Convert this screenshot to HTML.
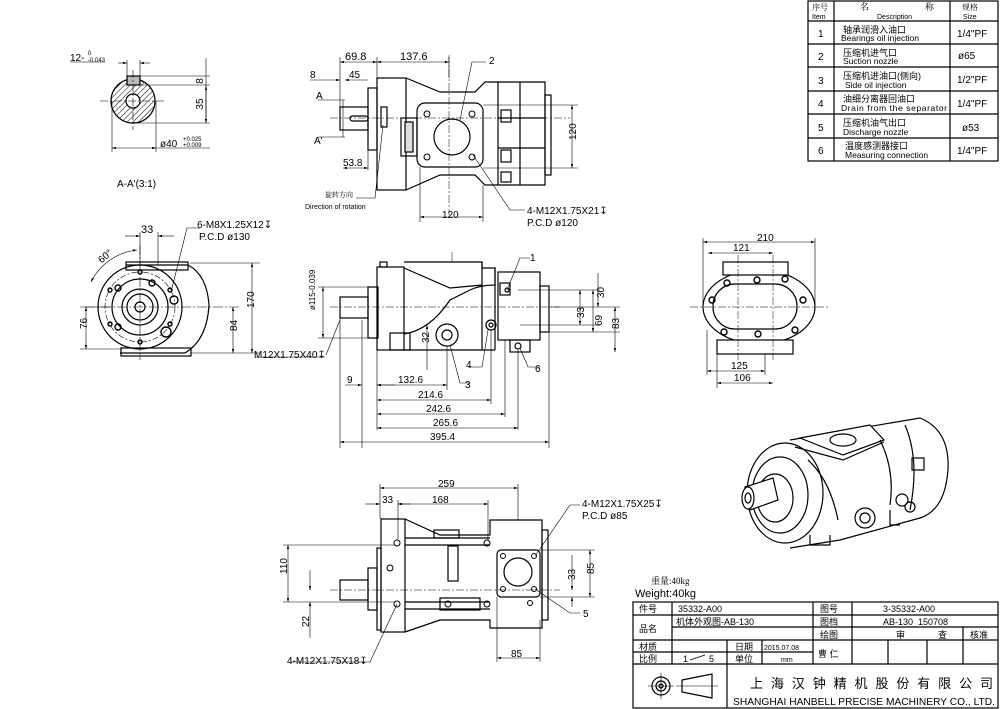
<!DOCTYPE html>
<html><head><meta charset="utf-8"><style>
html,body{margin:0;padding:0;background:#fff;}
svg{display:block;}
text{font-family:"Liberation Sans","Noto Sans CJK SC",sans-serif;fill:#000;}
.s{font-family:"Liberation Serif","Noto Serif CJK SC",serif;}
</style></head><body>
<svg width="1000" height="709" viewBox="0 0 1000 709" xmlns="http://www.w3.org/2000/svg">
<defs>
<marker id="a" viewBox="0 0 10 6" refX="10" refY="3" markerWidth="8" markerHeight="4" orient="auto-start-reverse"><path d="M0,0L10,3L0,6z" fill="#000"/></marker>
<pattern id="h" width="4" height="4" patternUnits="userSpaceOnUse" patternTransform="rotate(45)"><line x1="0" y1="0" x2="0" y2="4" stroke="#000" stroke-width="1"/></pattern>
</defs>
<g fill="none" stroke="#000" stroke-width="1.2">
<!-- ===== section A-A' ===== -->
<circle cx="133" cy="101" r="22" fill="url(#h)"/>
<circle cx="133" cy="101" r="7" fill="#fff"/>
<rect x="127" y="76" width="13" height="9" fill="#bbb"/>
<line x1="100" y1="101" x2="166" y2="101" stroke-dasharray="8,2,2,2" stroke-width=".6"/>
<line x1="133" y1="70" x2="133" y2="130" stroke-dasharray="8,2,2,2" stroke-width=".6"/>
<line x1="70" y1="62" x2="105" y2="62" stroke-width=".6"/>
<line x1="118" y1="63" x2="127" y2="63" marker-end="url(#a)" stroke-width=".6"/>
<line x1="150" y1="63" x2="140" y2="63" marker-end="url(#a)" stroke-width=".6"/>
<line x1="127" y1="60" x2="127" y2="76" stroke-width=".6"/><line x1="140" y1="60" x2="140" y2="76" stroke-width=".6"/>
<line x1="140" y1="76" x2="210" y2="76" stroke-width=".6"/><line x1="140" y1="85" x2="210" y2="85" stroke-width=".6"/>
<line x1="133" y1="123" x2="210" y2="123" stroke-width=".6"/>
<line x1="206" y1="58" x2="206" y2="123" stroke-width=".6"/>
<line x1="206" y1="86" x2="206" y2="123" marker-start="url(#a)" marker-end="url(#a)" stroke-width=".6"/>
<line x1="112" y1="101" x2="112" y2="152" stroke-width=".6"/><line x1="156" y1="101" x2="156" y2="152" stroke-width=".6"/>
<line x1="112" y1="148" x2="156" y2="148" marker-start="url(#a)" marker-end="url(#a)" stroke-width=".6"/>
<line x1="156" y1="148" x2="210" y2="148" stroke-width=".6"/>

<!-- ===== left end view ===== -->
<path d="M126,265 L188,265 Q207,275 209,305 Q207,340 185,353 L120,353"/>
<rect x="126" y="262" width="62" height="8"/>
<rect x="121" y="348" width="70" height="8"/>
<circle cx="140" cy="307" r="42"/>
<circle cx="140" cy="307" r="35" stroke-dasharray="6,2,2,2" stroke-width=".6"/>
<circle cx="140" cy="307" r="28"/>
<circle cx="140" cy="307" r="18"/><circle cx="140" cy="307" r="13"/><circle cx="140" cy="307" r="5"/>
<g stroke-width="1.4"><circle cx="140" cy="272" r="2"/><circle cx="170" cy="290" r="2"/><circle cx="170" cy="324" r="2"/><circle cx="140" cy="342" r="2"/><circle cx="110" cy="324" r="2"/><circle cx="110" cy="290" r="2"/>
<circle cx="174" cy="300" r="4"/><circle cx="166" cy="332" r="5"/><circle cx="118" cy="288" r="3"/><circle cx="118" cy="327" r="3"/><circle cx="152" cy="283" r="3"/></g>
<line x1="85" y1="307" x2="240" y2="307" stroke-dasharray="10,2,2,2" stroke-width=".6"/>
<line x1="140" y1="245" x2="140" y2="360" stroke-dasharray="10,2,2,2" stroke-width=".6"/>
<line x1="140" y1="232" x2="140" y2="265" stroke-width=".6"/><line x1="158" y1="232" x2="158" y2="265" stroke-width=".6"/>
<line x1="125" y1="236" x2="140" y2="236" marker-end="url(#a)" stroke-width=".6"/><line x1="174" y1="236" x2="158" y2="236" marker-end="url(#a)" stroke-width=".6"/>
<path d="M137,250 A58,58 0 0 0 91,282" stroke-width=".6" marker-start="url(#a)" marker-end="url(#a)"/>
<path d="M172,288 L187,228 L200,228" stroke-width=".6"/>
<line x1="80" y1="307" x2="110" y2="307" stroke-width=".6"/><line x1="80" y1="349" x2="122" y2="349" stroke-width=".6"/>
<line x1="86" y1="307" x2="86" y2="349" marker-start="url(#a)" marker-end="url(#a)" stroke-width=".6"/>
<line x1="190" y1="353" x2="260" y2="353" stroke-width=".6"/><line x1="190" y1="263" x2="260" y2="263" stroke-width=".6"/>
<line x1="252" y1="263" x2="252" y2="353" marker-start="url(#a)" marker-end="url(#a)" stroke-width=".6"/>
<line x1="233" y1="307" x2="233" y2="353" marker-start="url(#a)" marker-end="url(#a)" stroke-width=".6"/>
<line x1="255" y1="357" x2="325" y2="357" stroke-width=".6"/>

<!-- ===== top view ===== -->
<rect x="340" y="107" width="28" height="23"/>
<rect x="350" y="116" width="18" height="5" rx="2.5"/>
<rect x="368" y="88" width="9" height="62"/>
<rect x="377" y="78" width="29" height="112"/>
<rect x="381" y="107" width="6" height="20"/>
<path d="M406,78 L440,92 L475,92 L485,82 L545,82 L545,185 L485,185 L475,175 L440,175 L406,190"/>
<rect x="545" y="95" width="6" height="80"/>
<line x1="498" y1="82" x2="498" y2="185"/><line x1="520" y1="82" x2="520" y2="185"/>
<line x1="498" y1="118" x2="545" y2="118"/><line x1="498" y1="148" x2="545" y2="148"/>
<rect x="501" y="110" width="10" height="12"/><rect x="501" y="150" width="10" height="12"/><rect x="501" y="172" width="10" height="10"/>
<rect x="417" y="103" width="66" height="64" rx="8" fill="#fff"/>
<circle cx="452" cy="137" r="18"/>
<g stroke-width="1"><circle cx="427" cy="114" r="3"/><circle cx="472" cy="114" r="3"/><circle cx="427" cy="157" r="3"/><circle cx="472" cy="157" r="3"/></g>
<rect x="401" y="118" width="16" height="38"/>
<rect x="405" y="122" width="8" height="30" fill="#ddd"/>
<line x1="330" y1="118" x2="570" y2="118" stroke-dasharray="8,2,2,2" stroke-width=".5"/>
<line x1="449" y1="55" x2="449" y2="215" stroke-dasharray="8,2,2,2" stroke-width=".5"/>
<g stroke-width=".6">
<line x1="340" y1="57" x2="340" y2="107"/><line x1="377" y1="57" x2="377" y2="78"/><line x1="449" y1="57" x2="449" y2="78"/>
<line x1="340" y1="62" x2="377" y2="62" marker-start="url(#a)" marker-end="url(#a)"/>
<line x1="377" y1="62" x2="449" y2="62" marker-start="url(#a)" marker-end="url(#a)"/>
<line x1="310" y1="80" x2="340" y2="80" marker-end="url(#a)"/><line x1="368" y1="80" x2="345" y2="80" marker-end="url(#a)"/>
<line x1="318" y1="100" x2="345" y2="100"/><line x1="318" y1="137" x2="345" y2="137"/>
<line x1="343" y1="100" x2="343" y2="137"/>
<line x1="343" y1="168" x2="368" y2="168" marker-start="url(#a)" marker-end="url(#a)"/>
<line x1="368" y1="150" x2="368" y2="170"/>
<path d="M383,125 L375,198 L356,198"/>
<line x1="420" y1="167" x2="420" y2="222"/><line x1="483" y1="185" x2="483" y2="222"/>
<line x1="420" y1="217" x2="483" y2="217" marker-start="url(#a)" marker-end="url(#a)"/>
<line x1="483" y1="105" x2="578" y2="105"/><line x1="483" y1="168" x2="578" y2="168"/>
<line x1="572" y1="105" x2="572" y2="168" marker-start="url(#a)" marker-end="url(#a)"/>
<path d="M473,155 L510,210 L525,210"/><path d="M460,120 L472,62 L486,62"/>
</g>

<!-- ===== front view ===== -->
<rect x="340" y="297" width="28" height="21"/>
<rect x="368" y="287" width="10" height="51"/>
<rect x="377" y="267" width="27" height="83"/>
<rect x="380" y="262" width="7" height="5"/>
<path d="M404,262 L482,262 L482,268 L495,268 L495,285 Q480,285 470,290 L450,300 Q430,330 404,334"/>
<path d="M404,268 L450,288 L482,285"/>
<line x1="404" y1="350" x2="495" y2="350"/><line x1="482" y1="262" x2="482" y2="350"/><line x1="495" y1="268" x2="495" y2="350"/>
<rect x="498" y="272" width="42" height="68"/>
<rect x="540" y="286" width="9" height="46"/>
<rect x="390" y="333" width="20" height="17"/>
<circle cx="447" cy="335" r="11"/><circle cx="447" cy="335" r="5"/>
<circle cx="491" cy="325" r="5"/><circle cx="491" cy="325" r="2"/>
<rect x="500" y="283" width="10" height="12"/><circle cx="507" cy="290" r="2"/>
<rect x="510" y="340" width="20" height="12"/><circle cx="518" cy="346" r="3"/>
<line x1="330" y1="307" x2="560" y2="307" stroke-dasharray="8,2,2,2" stroke-width=".5"/>
<line x1="452" y1="252" x2="452" y2="262" stroke-width=".5"/>
<g stroke-width=".6">
<line x1="318" y1="287" x2="368" y2="287"/><line x1="318" y1="338" x2="368" y2="338"/>
<line x1="323" y1="287" x2="323" y2="338" marker-start="url(#a)" marker-end="url(#a)"/>
<line x1="362" y1="320" x2="362" y2="448"/><line x1="377" y1="340" x2="377" y2="430"/>
<line x1="549" y1="332" x2="549" y2="448"/><line x1="518" y1="350" x2="518" y2="430"/><line x1="505" y1="340" x2="505" y2="417"/><line x1="491" y1="330" x2="491" y2="404"/><line x1="447" y1="346" x2="447" y2="390"/>
<line x1="340" y1="318" x2="340" y2="448"/>
<line x1="340" y1="442" x2="549" y2="442" marker-start="url(#a)" marker-end="url(#a)"/>
<line x1="377" y1="428" x2="518" y2="428" marker-start="url(#a)" marker-end="url(#a)"/>
<line x1="377" y1="414" x2="505" y2="414" marker-start="url(#a)" marker-end="url(#a)"/>
<line x1="377" y1="400" x2="491" y2="400" marker-start="url(#a)" marker-end="url(#a)"/>
<line x1="377" y1="385" x2="447" y2="385" marker-start="url(#a)" marker-end="url(#a)"/>
<line x1="345" y1="385" x2="362" y2="385" marker-end="url(#a)"/><line x1="395" y1="385" x2="377" y2="385" marker-end="url(#a)"/>
<line x1="518" y1="290" x2="600" y2="290"/><line x1="520" y1="325" x2="600" y2="325"/><line x1="545" y1="332" x2="620" y2="332"/><line x1="550" y1="307" x2="620" y2="307"/>
<line x1="580" y1="290" x2="580" y2="325" marker-start="url(#a)" marker-end="url(#a)"/>
<line x1="598" y1="273" x2="598" y2="307" marker-end="url(#a)"/>
<line x1="593" y1="290" x2="593" y2="332" marker-start="url(#a)" marker-end="url(#a)"/>
<line x1="615" y1="307" x2="615" y2="352" marker-start="url(#a)" marker-end="url(#a)"/>
<line x1="427" y1="325" x2="427" y2="370" marker-start="url(#a)"/>
<path d="M507,290 L520,258 L530,258"/><path d="M450,345 L460,383 L470,383"/><path d="M488,330 L482,367 L468,367"/><path d="M520,348 L528,367 L540,367"/>
<path d="M340,320 L326,355"/>
</g>

<!-- ===== right view ===== -->
<ellipse cx="759" cy="307" rx="56" ry="37"/>
<rect x="713" y="284" width="84" height="45" rx="22"/>
<rect x="723" y="262" width="65" height="13" fill="#fff"/>
<rect x="717" y="340" width="76" height="14" fill="#fff"/>
<g stroke-width="1.4"><circle cx="727" cy="283" r="3"/><circle cx="757" cy="280" r="3"/><circle cx="785" cy="279" r="3"/><circle cx="712" cy="300" r="3"/><circle cx="803" cy="300" r="3"/><circle cx="724" cy="332" r="3"/><circle cx="758" cy="334" r="3"/><circle cx="795" cy="330" r="3"/></g>
<line x1="690" y1="307" x2="830" y2="307" stroke-dasharray="8,2,2,2" stroke-width=".5"/>
<line x1="738" y1="255" x2="738" y2="360" stroke-dasharray="8,2,2,2" stroke-width=".5"/>
<line x1="773" y1="255" x2="773" y2="360" stroke-dasharray="8,2,2,2" stroke-width=".5"/>
<g stroke-width=".6">
<line x1="703" y1="238" x2="703" y2="307"/><line x1="815" y1="238" x2="815" y2="307"/>
<line x1="703" y1="242" x2="815" y2="242" marker-start="url(#a)" marker-end="url(#a)"/>
<line x1="708" y1="253" x2="773" y2="253" marker-start="url(#a)" marker-end="url(#a)"/>
<line x1="707" y1="330" x2="707" y2="375"/><line x1="717" y1="354" x2="717" y2="388"/><line x1="765" y1="354" x2="765" y2="375"/>
<line x1="707" y1="371" x2="765" y2="371" marker-start="url(#a)" marker-end="url(#a)"/>
<line x1="717" y1="383" x2="773" y2="383" marker-start="url(#a)" marker-end="url(#a)"/>
</g>

<!-- ===== bottom view ===== -->
<rect x="340" y="580" width="28" height="20"/>
<rect x="368" y="568" width="9" height="42"/>
<rect x="377" y="548" width="4" height="82"/>
<rect x="381" y="519" width="24" height="113"/>
<path d="M405,519 L440,535 L490,535 L490,520 L542,520 L542,628 L490,628 L490,620 L440,620 L405,632"/>
<rect x="542" y="530" width="6" height="90"/>
<rect x="434" y="530" width="25" height="8"/>
<line x1="405" y1="538" x2="490" y2="538"/><line x1="405" y1="545" x2="490" y2="545"/>
<line x1="405" y1="602" x2="490" y2="602"/><line x1="405" y1="609" x2="490" y2="609"/>
<rect x="448" y="546" width="10" height="35"/>
<rect x="440" y="598" width="40" height="12"/>
<rect x="497" y="550" width="43" height="47" rx="4" fill="#fff"/>
<circle cx="518" cy="572" r="14"/>
<g stroke-width="1"><circle cx="397" cy="543" r="3"/><circle cx="397" cy="604" r="3"/><circle cx="390" cy="568" r="3"/><circle cx="487" cy="543" r="3"/><circle cx="487" cy="604" r="3"/><circle cx="448" cy="604" r="3"/><circle cx="503" cy="556" r="2.5"/><circle cx="534" cy="556" r="2.5"/><circle cx="503" cy="589" r="2.5"/><circle cx="534" cy="589" r="2.5"/><circle cx="530" cy="603" r="2.5"/></g>
<line x1="330" y1="590" x2="560" y2="590" stroke-dasharray="8,2,2,2" stroke-width=".5"/>
<g stroke-width=".6">
<line x1="380" y1="484" x2="380" y2="519"/><line x1="518" y1="484" x2="518" y2="520"/><line x1="398" y1="500" x2="398" y2="540"/><line x1="488" y1="500" x2="488" y2="540"/>
<line x1="380" y1="488" x2="518" y2="488" marker-start="url(#a)" marker-end="url(#a)"/>
<line x1="398" y1="504" x2="488" y2="504" marker-start="url(#a)" marker-end="url(#a)"/>
<line x1="365" y1="504" x2="380" y2="504" marker-end="url(#a)"/><line x1="410" y1="504" x2="398" y2="504" marker-end="url(#a)"/>
<line x1="283" y1="545" x2="395" y2="545"/><line x1="283" y1="602" x2="395" y2="602"/>
<line x1="288" y1="545" x2="288" y2="602" marker-start="url(#a)" marker-end="url(#a)"/>
<line x1="310" y1="570" x2="310" y2="590" marker-end="url(#a)"/><line x1="310" y1="638" x2="310" y2="602" marker-end="url(#a)"/>
<line x1="540" y1="550" x2="595" y2="550"/><line x1="540" y1="597" x2="595" y2="597"/>
<line x1="590" y1="550" x2="590" y2="597" marker-start="url(#a)" marker-end="url(#a)"/>
<line x1="572" y1="555" x2="572" y2="590" marker-end="url(#a)"/><line x1="572" y1="607" x2="572" y2="597" marker-end="url(#a)"/>
<line x1="497" y1="597" x2="497" y2="662"/><line x1="540" y1="620" x2="540" y2="662"/>
<line x1="497" y1="658" x2="540" y2="658" marker-start="url(#a)" marker-end="url(#a)"/>
<path d="M535,556 L570,505 L580,505"/><path d="M535,589 L570,613 L580,613"/><path d="M397,604 L370,662 L290,662"/>
</g>

<!-- ===== 3D view ===== -->
<g stroke-width="1.2">
<path d="M790,440 L920,418 Q950,430 948,470 Q945,510 920,518 L840,540 L790,548"/>
<ellipse cx="785" cy="493" rx="38" ry="50" fill="#fff"/>
<ellipse cx="780" cy="495" rx="28" ry="38"/>
<ellipse cx="775" cy="498" rx="18" ry="24"/>
<path d="M745,487 L773,478 L778,500 L750,510 Z" fill="#fff"/>
<ellipse cx="748" cy="498" rx="6" ry="11" fill="#fff"/><ellipse cx="748" cy="498" rx="3" ry="5"/>
<path d="M800,438 L870,425 L884,440 L843,455 Z" fill="#fff"/>
<path d="M795,447 L843,460 L884,442"/>
<ellipse cx="843" cy="440" rx="13" ry="6"/>
<path d="M808,460 Q830,480 838,520"/>
<path d="M880,440 Q895,470 890,505"/>
<path d="M905,425 Q920,460 910,510"/>
<circle cx="865" cy="518" r="10" fill="#fff"/><circle cx="865" cy="518" r="5"/>
<circle cx="902" cy="500" r="6"/><circle cx="910" cy="507" r="5"/>
<rect x="912" y="458" width="12" height="12"/>
<path d="M810,535 L810,545 L830,545 L830,535"/>
<path d="M890,510 L890,525 L900,525"/>
</g>

<!-- ===== table ===== -->
<g stroke-width="1.2">
<rect x="808" y="1" width="190" height="160"/>
<line x1="834" y1="1" x2="834" y2="161"/><line x1="950" y1="1" x2="950" y2="161"/>
<line x1="808" y1="21" x2="998" y2="21"/><line x1="808" y1="44" x2="998" y2="44"/><line x1="808" y1="67" x2="998" y2="67"/><line x1="808" y1="91" x2="998" y2="91"/><line x1="808" y1="114" x2="998" y2="114"/><line x1="808" y1="138" x2="998" y2="138"/>
</g>

<!-- ===== title block ===== -->
<g stroke-width="1.2">
<rect x="633" y="602" width="365" height="106"/>
<line x1="633" y1="615" x2="998" y2="615"/><line x1="672" y1="627" x2="998" y2="627"/><line x1="633" y1="640" x2="998" y2="640"/><line x1="633" y1="652" x2="813" y2="652"/><line x1="633" y1="664" x2="998" y2="664"/>
<line x1="672" y1="602" x2="672" y2="664"/><line x1="727" y1="640" x2="727" y2="708"/><line x1="762" y1="640" x2="762" y2="664"/><line x1="813" y1="602" x2="813" y2="664"/><line x1="852" y1="602" x2="852" y2="664"/>
<line x1="888" y1="640" x2="888" y2="664"/><line x1="927" y1="640" x2="927" y2="664"/><line x1="963" y1="627" x2="963" y2="664"/>
<circle cx="661" cy="686" r="9"/><circle cx="661" cy="686" r="5"/><circle cx="661" cy="686" r="2"/>
<line x1="648" y1="686" x2="674" y2="686" stroke-width=".6"/><line x1="661" y1="673" x2="661" y2="699" stroke-width=".6"/>
<path d="M682,680 L712,674 L712,698 L682,692 Z"/><line x1="676" y1="686" x2="718" y2="686" stroke-width=".6"/>
<line x1="690" y1="660" x2="705" y2="655" stroke-width=".8"/>
</g>
</g>

<!-- ===== text ===== -->
<g font-size="11">
<text x="70" y="61" font-size="10">12-</text><text x="88" y="55" font-size="6">0</text><text x="88" y="62" font-size="6">-0.043</text>
<text transform="translate(203,81) rotate(-90)" text-anchor="middle" font-size="10">8</text>
<text transform="translate(203,104) rotate(-90)" text-anchor="middle" font-size="10">35</text>
<text x="160" y="147" font-size="10">ø40</text><text x="183" y="141" font-size="6">+0.025</text><text x="183" y="147" font-size="6">+0.009</text>
<text x="117" y="187" font-size="10">A-A'(3:1)</text>
<text x="141" y="233" font-size="11">33</text>
<text x="197" y="228" font-size="10">6-M8X1.25X12↧</text><text x="199" y="240" font-size="10">P.C.D ø130</text>
<text x="98" y="262" font-size="10" transform="rotate(-40 102 258)">60°</text>
<text x="83" y="333" font-size="10" transform="rotate(-90 83 329)">76</text>
<text x="233" y="335" font-size="10" transform="rotate(-90 233 331)">84</text>
<text x="250" y="312" font-size="10" transform="rotate(-90 250 308)">170</text>
<text x="254" y="358" font-size="10">M12X1.75X40↧</text>
<text x="320" y="305" font-size="8" transform="rotate(-90 320 310)">ø115-0.039</text>

<text x="345" y="60" font-size="11">69.8</text><text x="400" y="60" font-size="11">137.6</text>
<text x="310" y="78" font-size="10">8</text><text x="349" y="78" font-size="10">45</text>
<text x="316" y="99" font-size="10">A</text><text x="314" y="144" font-size="10">A'</text>
<text x="343" y="166" font-size="10">53.8</text>
<text x="325" y="197" font-size="7" class="s">旋转方向</text>
<text x="305" y="209" font-size="7">Direction of rotation</text>
<text x="489" y="64" font-size="10">2</text>
<text x="442" y="218" font-size="10">120</text>
<text x="527" y="214" font-size="10">4-M12X1.75X21↧</text><text x="527" y="226" font-size="10">P.C.D ø120</text>
<text x="572" y="144" font-size="10" transform="rotate(-90 572 140)">120</text>

<text x="530" y="261" font-size="10">1</text>
<text x="600" y="302" font-size="10" transform="rotate(-90 600 298)">30</text>
<text x="580" y="322" font-size="10" transform="rotate(-90 580 318)">33</text>
<text x="598" y="330" font-size="10" transform="rotate(-90 598 326)">69</text>
<text x="615" y="333" font-size="10" transform="rotate(-90 615 329)">83</text>
<text x="425" y="347" font-size="10" transform="rotate(-90 425 343)">32</text>
<text x="466" y="368" font-size="10">4</text><text x="535" y="372" font-size="10">6</text><text x="465" y="388" font-size="10">3</text>
<text x="347" y="383" font-size="10">9</text><text x="398" y="383" font-size="10">132.6</text>
<text x="418" y="398" font-size="10">214.6</text><text x="426" y="412" font-size="10">242.6</text><text x="433" y="426" font-size="10">265.6</text><text x="430" y="440" font-size="10">395.4</text>

<text x="757" y="241" font-size="10">210</text><text x="733" y="251" font-size="10">121</text>
<text x="731" y="369" font-size="10">125</text><text x="734" y="381" font-size="10">106</text>

<text x="438" y="487" font-size="10">259</text><text x="382" y="503" font-size="10">33</text><text x="432" y="503" font-size="10">168</text>
<text x="582" y="507" font-size="10">4-M12X1.75X25↧</text><text x="582" y="519" font-size="10">P.C.D ø85</text>
<text x="283" y="578" font-size="10" transform="rotate(-90 283 574)">110</text>
<text x="305" y="631" font-size="10" transform="rotate(-90 305 627)">22</text>
<text x="571" y="584" font-size="10" transform="rotate(-90 571 580)">33</text>
<text x="590" y="578" font-size="10" transform="rotate(-90 590 574)">85</text>
<text x="583" y="617" font-size="10">5</text>
<text x="511" y="657" font-size="10">85</text>
<text x="287" y="664" font-size="10">4-M12X1.75X18↧</text>

<!-- table text -->
<text x="812" y="10" font-size="8" class="s">序号</text><text x="812" y="19" font-size="7">Item</text>
<text x="860" y="10" font-size="9" class="s">名</text><text x="925" y="10" font-size="9" class="s">称</text><text x="877" y="19" font-size="7">Description</text>
<text x="962" y="10" font-size="8" class="s">规格</text><text x="963" y="19" font-size="7">Size</text>
<g font-size="10"><text x="818" y="37">1</text><text x="818" y="60">2</text><text x="818" y="84">3</text><text x="818" y="107">4</text><text x="818" y="131">5</text><text x="818" y="154">6</text></g>
<g font-size="9" class="s"><text x="843" y="33">轴承润滑入油口</text><text x="843" y="56">压缩机进气口</text><text x="843" y="79">压缩机进油口(侧向)</text><text x="843" y="102">油细分离器回油口</text><text x="843" y="126">压缩机油气出口</text><text x="845" y="149">温度感测器接口</text></g>
<g font-size="8.5"><text x="841" y="41">Bearings oil injection</text><text x="843" y="64">Suction nozzle</text><text x="845" y="88">Side oil injection</text><text x="841" y="111" textLength="106">Drain from the separator</text><text x="843" y="135">Discharge nozzle</text><text x="845" y="158">Measuring connection</text></g>
<g font-size="10"><text x="957" y="37">1/4"PF</text><text x="958" y="59">ø65</text><text x="957" y="83">1/2"PF</text><text x="957" y="107">1/4"PF</text><text x="962" y="131">ø53</text><text x="957" y="154">1/4"PF</text></g>

<!-- title block text -->
<text x="651" y="584" font-size="9" class="s">重量:40kg</text>
<text x="635" y="597" font-size="11">Weight:40kg</text>
<g font-size="9" class="s">
<text x="639" y="612">件号</text><text x="678" y="612">35332-A00</text><text x="820" y="612">图号</text><text x="883" y="612">3-35332-A00</text>
<text x="639" y="632">品名</text><text x="676" y="625">机体外观图-AB-130</text><text x="820" y="625">图档</text><text x="883" y="625">AB-130_150708</text>
<text x="820" y="638">绘图</text><text x="896" y="638">审</text><text x="938" y="638">查</text><text x="970" y="638">核准</text>
<text x="639" y="650">材质</text><text x="735" y="650">日期</text><text x="764" y="650" font-size="7">2015.07.08</text><text x="818" y="657">曹  仁</text>
<text x="639" y="662">比例</text><text x="683" y="662">1</text><text x="709" y="662">5</text><text x="735" y="662">单位</text><text x="781" y="662" font-size="7">mm</text>
<text x="750" y="688" font-size="13" textLength="243" lengthAdjust="spacing">上海汉钟精机股份有限公司</text>
</g>
<text x="733" y="705" font-size="10.5" textLength="262" lengthAdjust="spacingAndGlyphs">SHANGHAI HANBELL PRECISE MACHINERY CO., LTD.</text>
</g>
</svg>
</body></html>
